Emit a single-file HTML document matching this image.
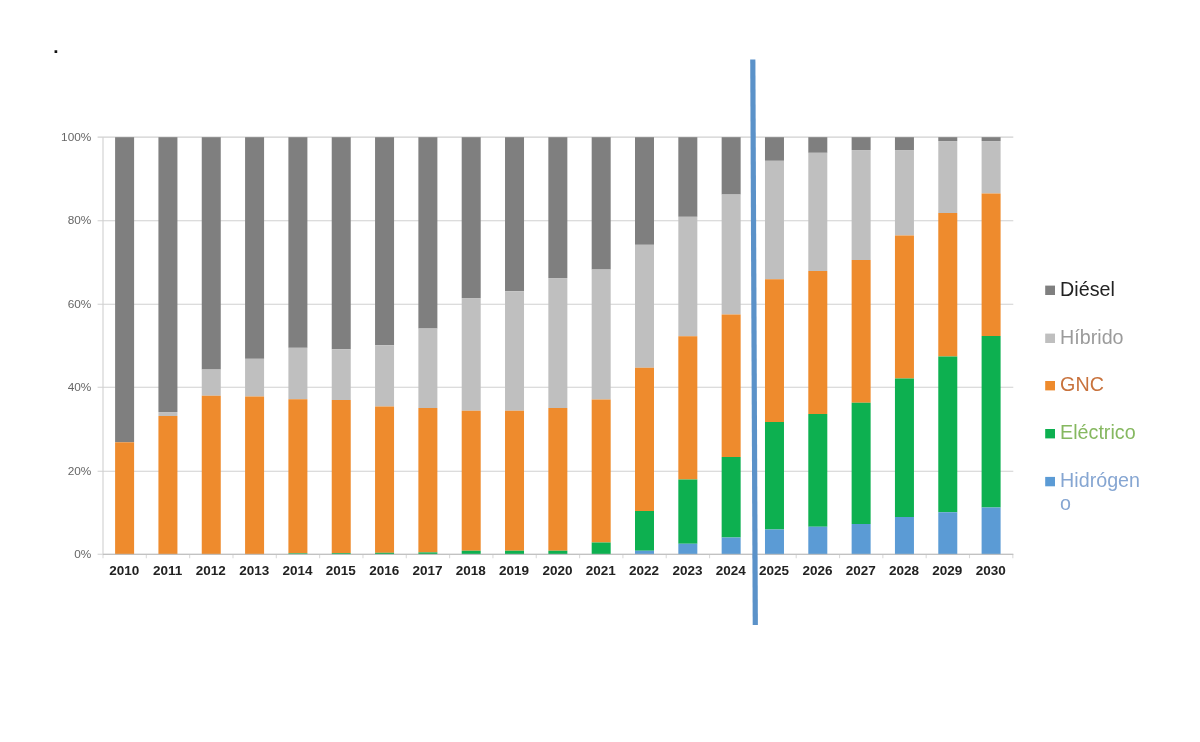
<!DOCTYPE html>
<html lang="es"><head><meta charset="utf-8"><title>Gráfico</title>
<style>html,body{margin:0;padding:0;background:#fff}body{width:1200px;height:742px;overflow:hidden}svg{display:block}#chart{width:1200px;height:742px}</style></head>
<body>
<div id="chart">
<svg width="1200" height="742" viewBox="0 0 1200 742">
<rect width="1200" height="742" fill="#fff"/>
<g stroke="#d0d0d0" stroke-width="1.1" fill="none">
<line x1="97.6" y1="137.10" x2="1013.3" y2="137.10"/>
<line x1="97.6" y1="220.70" x2="1013.3" y2="220.70"/>
<line x1="97.6" y1="304.20" x2="1013.3" y2="304.20"/>
<line x1="97.6" y1="387.30" x2="1013.3" y2="387.30"/>
<line x1="97.6" y1="471.30" x2="1013.3" y2="471.30"/>
<line x1="97.6" y1="554.25" x2="1013.3" y2="554.25"/>
<line x1="103.0" y1="137.2" x2="103.0" y2="554.8"/>
<line x1="103.00" y1="554.3" x2="103.00" y2="558.2" stroke="#dadada"/>
<line x1="146.32" y1="554.3" x2="146.32" y2="558.2" stroke="#dadada"/>
<line x1="189.65" y1="554.3" x2="189.65" y2="558.2" stroke="#dadada"/>
<line x1="232.98" y1="554.3" x2="232.98" y2="558.2" stroke="#dadada"/>
<line x1="276.30" y1="554.3" x2="276.30" y2="558.2" stroke="#dadada"/>
<line x1="319.62" y1="554.3" x2="319.62" y2="558.2" stroke="#dadada"/>
<line x1="362.95" y1="554.3" x2="362.95" y2="558.2" stroke="#dadada"/>
<line x1="406.28" y1="554.3" x2="406.28" y2="558.2" stroke="#dadada"/>
<line x1="449.60" y1="554.3" x2="449.60" y2="558.2" stroke="#dadada"/>
<line x1="492.93" y1="554.3" x2="492.93" y2="558.2" stroke="#dadada"/>
<line x1="536.25" y1="554.3" x2="536.25" y2="558.2" stroke="#dadada"/>
<line x1="579.58" y1="554.3" x2="579.58" y2="558.2" stroke="#dadada"/>
<line x1="622.90" y1="554.3" x2="622.90" y2="558.2" stroke="#dadada"/>
<line x1="666.23" y1="554.3" x2="666.23" y2="558.2" stroke="#dadada"/>
<line x1="709.55" y1="554.3" x2="709.55" y2="558.2" stroke="#dadada"/>
<line x1="752.88" y1="554.3" x2="752.88" y2="558.2" stroke="#dadada"/>
<line x1="796.20" y1="554.3" x2="796.20" y2="558.2" stroke="#dadada"/>
<line x1="839.53" y1="554.3" x2="839.53" y2="558.2" stroke="#dadada"/>
<line x1="882.85" y1="554.3" x2="882.85" y2="558.2" stroke="#dadada"/>
<line x1="926.18" y1="554.3" x2="926.18" y2="558.2" stroke="#dadada"/>
<line x1="969.50" y1="554.3" x2="969.50" y2="558.2" stroke="#dadada"/>
<line x1="1012.83" y1="554.3" x2="1012.83" y2="558.2" stroke="#dadada"/>
</g>
<g shape-rendering="auto">
<rect x="115.10" y="137.20" width="19.0" height="305.10" fill="#7f7f7f"/>
<rect x="115.10" y="442.30" width="19.0" height="112.00" fill="#ee8b2d"/>
<rect x="158.43" y="137.20" width="19.0" height="274.85" fill="#7f7f7f"/>
<rect x="158.43" y="412.05" width="19.0" height="3.95" fill="#bfbfbf"/>
<rect x="158.43" y="416.00" width="19.0" height="138.30" fill="#ee8b2d"/>
<rect x="201.75" y="137.20" width="19.0" height="232.35" fill="#7f7f7f"/>
<rect x="201.75" y="369.55" width="19.0" height="26.20" fill="#bfbfbf"/>
<rect x="201.75" y="395.75" width="19.0" height="158.55" fill="#ee8b2d"/>
<rect x="245.08" y="137.20" width="19.0" height="221.60" fill="#7f7f7f"/>
<rect x="245.08" y="358.80" width="19.0" height="37.70" fill="#bfbfbf"/>
<rect x="245.08" y="396.50" width="19.0" height="157.80" fill="#ee8b2d"/>
<rect x="288.40" y="137.20" width="19.0" height="210.60" fill="#7f7f7f"/>
<rect x="288.40" y="347.80" width="19.0" height="51.45" fill="#bfbfbf"/>
<rect x="288.40" y="399.25" width="19.0" height="154.05" fill="#ee8b2d"/>
<rect x="288.40" y="553.30" width="19.0" height="1.00" fill="#0db050"/>
<rect x="331.73" y="137.20" width="19.0" height="212.10" fill="#7f7f7f"/>
<rect x="331.73" y="349.30" width="19.0" height="50.70" fill="#bfbfbf"/>
<rect x="331.73" y="400.00" width="19.0" height="153.10" fill="#ee8b2d"/>
<rect x="331.73" y="553.10" width="19.0" height="1.20" fill="#0db050"/>
<rect x="375.05" y="137.20" width="19.0" height="208.10" fill="#7f7f7f"/>
<rect x="375.05" y="345.30" width="19.0" height="61.20" fill="#bfbfbf"/>
<rect x="375.05" y="406.50" width="19.0" height="146.30" fill="#ee8b2d"/>
<rect x="375.05" y="552.80" width="19.0" height="1.50" fill="#0db050"/>
<rect x="418.38" y="137.20" width="19.0" height="191.35" fill="#7f7f7f"/>
<rect x="418.38" y="328.55" width="19.0" height="79.45" fill="#bfbfbf"/>
<rect x="418.38" y="408.00" width="19.0" height="144.40" fill="#ee8b2d"/>
<rect x="418.38" y="552.40" width="19.0" height="1.90" fill="#0db050"/>
<rect x="461.70" y="137.20" width="19.0" height="160.85" fill="#7f7f7f"/>
<rect x="461.70" y="298.05" width="19.0" height="112.70" fill="#bfbfbf"/>
<rect x="461.70" y="410.75" width="19.0" height="140.00" fill="#ee8b2d"/>
<rect x="461.70" y="550.75" width="19.0" height="3.55" fill="#0db050"/>
<rect x="505.02" y="137.20" width="19.0" height="154.10" fill="#7f7f7f"/>
<rect x="505.02" y="291.30" width="19.0" height="119.45" fill="#bfbfbf"/>
<rect x="505.02" y="410.75" width="19.0" height="140.00" fill="#ee8b2d"/>
<rect x="505.02" y="550.75" width="19.0" height="3.55" fill="#0db050"/>
<rect x="548.35" y="137.20" width="19.0" height="140.85" fill="#7f7f7f"/>
<rect x="548.35" y="278.05" width="19.0" height="129.95" fill="#bfbfbf"/>
<rect x="548.35" y="408.00" width="19.0" height="142.75" fill="#ee8b2d"/>
<rect x="548.35" y="550.75" width="19.0" height="3.55" fill="#0db050"/>
<rect x="591.68" y="137.20" width="19.0" height="132.35" fill="#7f7f7f"/>
<rect x="591.68" y="269.55" width="19.0" height="129.95" fill="#bfbfbf"/>
<rect x="591.68" y="399.50" width="19.0" height="143.00" fill="#ee8b2d"/>
<rect x="591.68" y="542.50" width="19.0" height="11.80" fill="#0db050"/>
<rect x="635.00" y="137.20" width="19.0" height="107.60" fill="#7f7f7f"/>
<rect x="635.00" y="244.80" width="19.0" height="122.95" fill="#bfbfbf"/>
<rect x="635.00" y="367.75" width="19.0" height="143.25" fill="#ee8b2d"/>
<rect x="635.00" y="511.00" width="19.0" height="39.75" fill="#0db050"/>
<rect x="635.00" y="550.75" width="19.0" height="3.55" fill="#5b9bd5"/>
<rect x="678.33" y="137.20" width="19.0" height="79.60" fill="#7f7f7f"/>
<rect x="678.33" y="216.80" width="19.0" height="119.45" fill="#bfbfbf"/>
<rect x="678.33" y="336.25" width="19.0" height="143.25" fill="#ee8b2d"/>
<rect x="678.33" y="479.50" width="19.0" height="64.25" fill="#0db050"/>
<rect x="678.33" y="543.75" width="19.0" height="10.55" fill="#5b9bd5"/>
<rect x="721.65" y="137.20" width="19.0" height="57.35" fill="#7f7f7f"/>
<rect x="721.65" y="194.55" width="19.0" height="119.95" fill="#bfbfbf"/>
<rect x="721.65" y="314.50" width="19.0" height="142.50" fill="#ee8b2d"/>
<rect x="721.65" y="457.00" width="19.0" height="80.50" fill="#0db050"/>
<rect x="721.65" y="537.50" width="19.0" height="16.80" fill="#5b9bd5"/>
<rect x="764.98" y="137.20" width="19.0" height="23.60" fill="#7f7f7f"/>
<rect x="764.98" y="160.80" width="19.0" height="118.45" fill="#bfbfbf"/>
<rect x="764.98" y="279.25" width="19.0" height="142.75" fill="#ee8b2d"/>
<rect x="764.98" y="422.00" width="19.0" height="107.50" fill="#0db050"/>
<rect x="764.98" y="529.50" width="19.0" height="24.80" fill="#5b9bd5"/>
<rect x="808.30" y="137.20" width="19.0" height="15.60" fill="#7f7f7f"/>
<rect x="808.30" y="152.80" width="19.0" height="118.20" fill="#bfbfbf"/>
<rect x="808.30" y="271.00" width="19.0" height="143.00" fill="#ee8b2d"/>
<rect x="808.30" y="414.00" width="19.0" height="112.75" fill="#0db050"/>
<rect x="808.30" y="526.75" width="19.0" height="27.55" fill="#5b9bd5"/>
<rect x="851.63" y="137.20" width="19.0" height="12.85" fill="#7f7f7f"/>
<rect x="851.63" y="150.05" width="19.0" height="109.95" fill="#bfbfbf"/>
<rect x="851.63" y="260.00" width="19.0" height="142.75" fill="#ee8b2d"/>
<rect x="851.63" y="402.75" width="19.0" height="121.25" fill="#0db050"/>
<rect x="851.63" y="524.00" width="19.0" height="30.30" fill="#5b9bd5"/>
<rect x="894.95" y="137.20" width="19.0" height="12.85" fill="#7f7f7f"/>
<rect x="894.95" y="150.05" width="19.0" height="85.45" fill="#bfbfbf"/>
<rect x="894.95" y="235.50" width="19.0" height="143.00" fill="#ee8b2d"/>
<rect x="894.95" y="378.50" width="19.0" height="138.50" fill="#0db050"/>
<rect x="894.95" y="517.00" width="19.0" height="37.30" fill="#5b9bd5"/>
<rect x="938.28" y="137.20" width="19.0" height="3.85" fill="#7f7f7f"/>
<rect x="938.28" y="141.05" width="19.0" height="71.95" fill="#bfbfbf"/>
<rect x="938.28" y="213.00" width="19.0" height="143.50" fill="#ee8b2d"/>
<rect x="938.28" y="356.50" width="19.0" height="155.75" fill="#0db050"/>
<rect x="938.28" y="512.25" width="19.0" height="42.05" fill="#5b9bd5"/>
<rect x="981.60" y="137.20" width="19.0" height="3.85" fill="#7f7f7f"/>
<rect x="981.60" y="141.05" width="19.0" height="52.45" fill="#bfbfbf"/>
<rect x="981.60" y="193.50" width="19.0" height="142.50" fill="#ee8b2d"/>
<rect x="981.60" y="336.00" width="19.0" height="171.50" fill="#0db050"/>
<rect x="981.60" y="507.50" width="19.0" height="46.80" fill="#5b9bd5"/>
</g>
<line x1="103.0" y1="554.3" x2="1013.3" y2="554.3" stroke="#bcbcbc" stroke-width="1"/>
<line x1="752.8" y1="59.5" x2="755.3" y2="625" stroke="#5b92c9" stroke-width="5.2"/>
<g font-family="'Liberation Sans', Arial, sans-serif" font-size="11.8" fill="#666" text-anchor="end">
<text x="91.3" y="140.85">100%</text>
<text x="91.3" y="224.45">80%</text>
<text x="91.3" y="307.95">60%</text>
<text x="91.3" y="391.05">40%</text>
<text x="91.3" y="475.05">20%</text>
<text x="91.3" y="558.00">0%</text>
</g>
<g font-family="'Liberation Sans', Arial, sans-serif" font-size="13.5" font-weight="bold" fill="#222" text-anchor="middle">
<text x="124.20" y="574.6">2010</text>
<text x="167.53" y="574.6">2011</text>
<text x="210.85" y="574.6">2012</text>
<text x="254.18" y="574.6">2013</text>
<text x="297.50" y="574.6">2014</text>
<text x="340.83" y="574.6">2015</text>
<text x="384.15" y="574.6">2016</text>
<text x="427.48" y="574.6">2017</text>
<text x="470.80" y="574.6">2018</text>
<text x="514.12" y="574.6">2019</text>
<text x="557.45" y="574.6">2020</text>
<text x="600.78" y="574.6">2021</text>
<text x="644.10" y="574.6">2022</text>
<text x="687.43" y="574.6">2023</text>
<text x="730.75" y="574.6">2024</text>
<text x="774.08" y="574.6">2025</text>
<text x="817.40" y="574.6">2026</text>
<text x="860.73" y="574.6">2027</text>
<text x="904.05" y="574.6">2028</text>
<text x="947.38" y="574.6">2029</text>
<text x="990.70" y="574.6">2030</text>
</g>
<g font-family="'Liberation Sans', Arial, sans-serif" font-size="19.7">
<rect x="1045.2" y="285.60" width="9.8" height="9.4" fill="#7f7f7f"/>
<text x="1060.1" y="295.7" fill="#222">Diésel</text>
<rect x="1045.2" y="333.60" width="9.8" height="9.4" fill="#bfbfbf"/>
<text x="1060.1" y="343.7" fill="#9b9b9b">Híbrido</text>
<rect x="1045.2" y="381.00" width="9.8" height="9.4" fill="#ee8b2d"/>
<text x="1060.1" y="391.1" fill="#c8723c">GNC</text>
<rect x="1045.2" y="429.00" width="9.8" height="9.4" fill="#0db050"/>
<text x="1060.1" y="439.1" fill="#86b860">Eléctrico</text>
<rect x="1045.2" y="476.90" width="9.8" height="9.4" fill="#5b9bd5"/>
<text x="1060.1" y="487.0" fill="#86a6d2">Hidrógen</text>
<text x="1060.1" y="510.0" fill="#86a6d2">o</text>
</g>
<text x="53.3" y="53.35" font-family="'Liberation Sans', Arial, sans-serif" font-size="19" font-weight="bold" fill="#111">.</text>
</svg>
</div>
</body></html>
